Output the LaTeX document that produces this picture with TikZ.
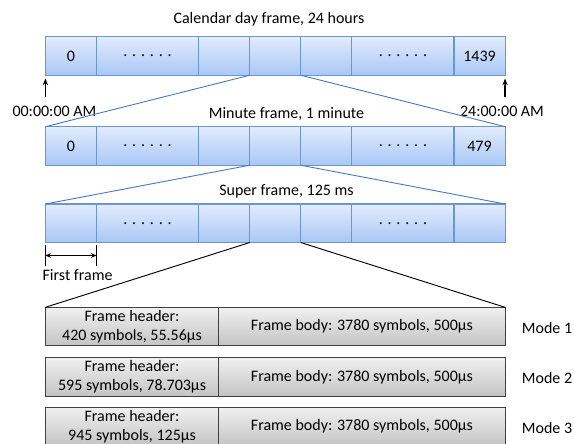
\documentclass[tikz,border=0pt]{standalone}
\usepackage{fontspec}
\setmainfont{Carlito}
\usetikzlibrary{arrows.meta,shadings,calc}
\definecolor{celltop}{HTML}{E2ECFC}
\definecolor{cellbot}{HTML}{A9C7F7}
\definecolor{cellborder}{HTML}{6F95CF}
\definecolor{graytop}{HTML}{F0F0F0}
\definecolor{graybot}{HTML}{C4C4C4}
\definecolor{grayborder}{HTML}{404040}
\definecolor{linkblue}{HTML}{4A7DC0}
\begin{document}
\begin{tikzpicture}[x=0.75pt,y=-0.75pt,
  font=\fontsize{12}{14.3}\selectfont,
  cell/.style={draw=cellborder, top color=celltop, bottom color=cellbot,
    minimum height=28.9pt, inner sep=0pt, outer sep=0pt, anchor=north west, line width=0.8pt},
  modebox/.style={draw=grayborder, top color=graytop, bottom color=graybot,
    minimum height=28.8pt, inner sep=0pt, outer sep=0pt, anchor=north west, line width=0.8pt, align=center},
  lbl/.style={inner sep=0pt},
  blueline/.style={draw=linkblue, line width=0.7pt},
  blackline/.style={draw=black, line width=0.7pt},
  marker/.style={line width=1.2pt, -{Stealth[length=5pt,width=4pt]}}
]
\useasboundingbox (0,0) rectangle (574,443);

% Row titles
\node[lbl] (t1) at (269,19.3) {Calendar day frame, 24 hours};
\node[lbl] (t2) at (286.5,114) {Minute frame, 1 minute};
\node[lbl] (t3) at (286.5,191.7) {Super frame, 125 ms};

% Rows of cells
\foreach \r/\y/\first/\last in {1/36.7/0/1439, 2/126.7/0/479, 3/204/{}/{}}{
  \node[cell, minimum width=38.3pt] (r\r a) at (45.4,\y) {\first};
  \node[cell, minimum width=76.6pt] (r\r b) at (96.5,\y) {. . . . . .};
  \node[cell, minimum width=38.3pt] (r\r c) at (198.6,\y) {};
  \node[cell, minimum width=38.3pt] (r\r d) at (249.7,\y) {};
  \node[cell, minimum width=38.3pt] (r\r e) at (300.8,\y) {};
  \node[cell, minimum width=76.6pt] (r\r f) at (351.9,\y) {. . . . . .};
  \node[cell, minimum width=38.3pt] (r\r g) at (454.0,\y) {\last};
}

% Time markers
\coordinate (m0) at (45.4,97);
\coordinate (m1) at (505,97);
\draw[marker] (m0) -- ([yshift=-2.5pt]r1a.south west);
\draw[marker] (m1) -- ([yshift=-2.5pt]r1g.south east);
\node[lbl] (l0) at (54.4,111) {00:00:00 AM};
\node[lbl] (l1) at (502,111) {24:00:00 AM};

% Zoom lines
\draw[blueline] (r1d.south west) -- (r2a.north west);
\draw[blueline] (r1d.south east) -- (r2g.north east);
\draw[blueline] (r2d.south west) -- (r3a.north west);
\draw[blueline] (r2d.south east) -- (r3g.north east);

% First frame bracket
\coordinate (fa) at (45.4,245);
\coordinate (fb) at (45.4,266);
\coordinate (fc) at (96.5,245);
\coordinate (fd) at (96.5,266);
\draw[line width=1.2pt] (fa) -- (fb);
\draw[line width=1.2pt] (fc) -- (fd);
\draw[line width=1pt, {Stealth[length=4pt,width=3.5pt]}-{Stealth[length=4pt,width=3.5pt]}]
  ($(fa)!0.5!(fb)$) -- ($(fc)!0.5!(fd)$);
\node[lbl] (ff) at (77.6,275) {First frame};

% Mode boxes
\foreach \m/\y/\hdr in {1/307.3/{420 symbols, 55.56µs}, 2/357.7/{595 symbols, 78.703µs}, 3/407.3/{945 symbols, 125µs}}{
  \node[modebox, minimum width=130pt] (h\m) at (45.4,\y) {Frame header:\\\hdr};
  \node[modebox, minimum width=214.7pt] (b\m) at (218.8,\y) {Frame body: 3780 symbols, 500µs};
  \node[lbl, anchor=west] (mode\m) at (521.7,\y+20.5) {Mode \m};
}

\draw[blackline] (r3d.south west) -- (h1.north west);
\draw[blackline] (r3d.south east) -- (b1.north east);
\end{tikzpicture}
\end{document}
